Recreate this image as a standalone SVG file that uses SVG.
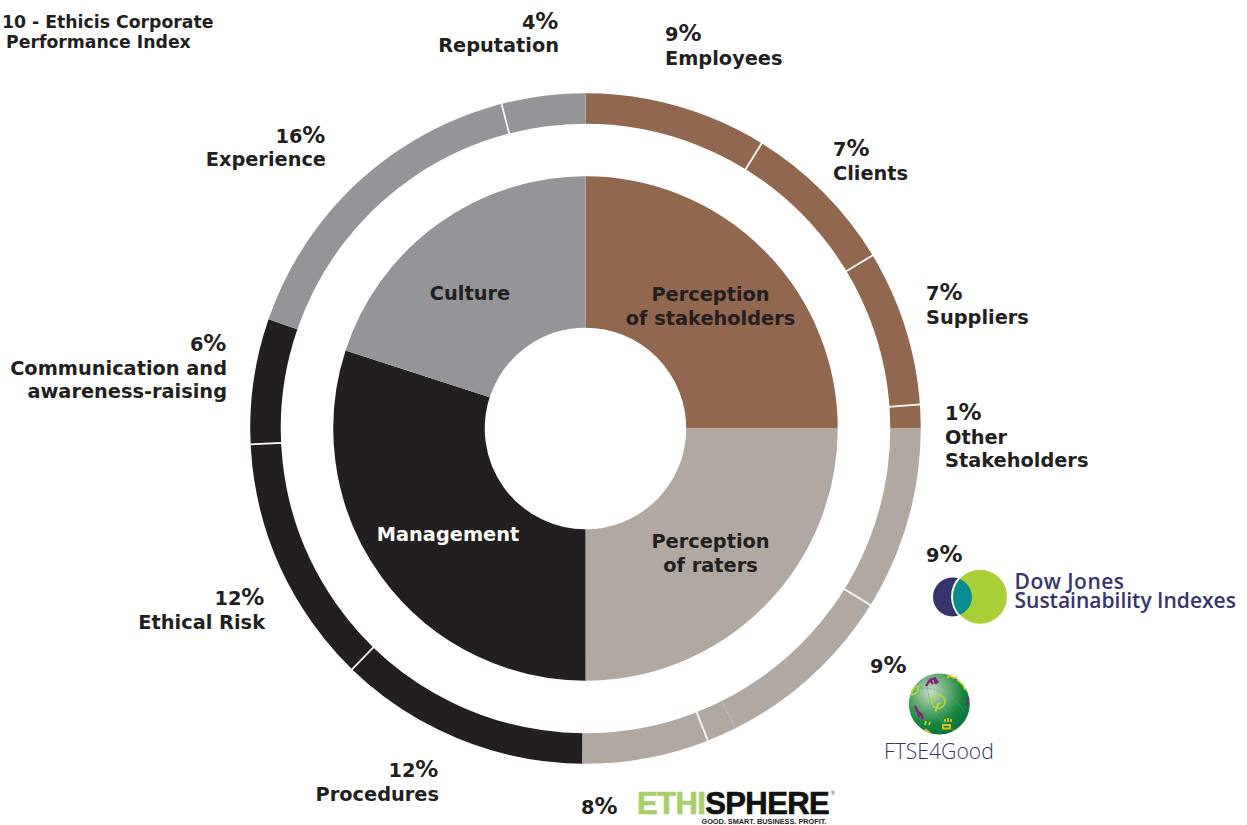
<svg xmlns="http://www.w3.org/2000/svg" width="1247" height="825" viewBox="0 0 1247 825">
<defs>
<radialGradient id="globe" cx="0.36" cy="0.3" r="0.8"><stop offset="0" stop-color="#cfdfcc"/><stop offset="0.3" stop-color="#74b383"/><stop offset="0.65" stop-color="#16873f"/><stop offset="1" stop-color="#0c6a38"/></radialGradient>
</defs>
<style>
.t{font-family:"DejaVu Sans",Verdana,sans-serif;font-weight:700;font-size:19.35px;fill:#231f20}
.pc{font-size:23px;letter-spacing:0.6px}
.e{text-anchor:end}
.m{text-anchor:middle}
.ti{font-size:17.3px}
.r{fill:none;stroke-width:30.5}
.p{fill:none;stroke-width:151.5}
.sep{stroke:#fff;stroke-width:1.7}
.br{stroke:#91674f}.li{stroke:#b0a8a1}.bk{stroke:#231f20}.gr{stroke:#939598}
.dj{font-family:"Open Sans",sans-serif;font-weight:600;font-size:21px;fill:#35346b}
.fig{fill:none;stroke:#8d1a7d;stroke-width:2.2}
.hand{fill:none;stroke:#e3c21d;stroke-width:1.8}
.leaf{fill:none;stroke:#b6d832;stroke-width:1.6}
</style>
<rect width="1247" height="825" fill="#fff"/>
<g id="inner-ring">
<path class="p br" d="M585.5 252A176.500 176.500 0 0 1 762 428.500"/>
<path class="p li" d="M762 428.500A176.500 176.500 0 0 1 585.500 605"/>
<path class="p bk" d="M585.500 605A176.500 176.500 0 0 1 417.640 373.960"/>
<path class="p gr" d="M417.640 373.960A176.500 176.500 0 0 1 585.500 252"/>
</g>
<g id="outer-ring">
<path class="r br" d="M585.500 108.500A320 320 0 0 1 905.500 428.500"/>
<path class="r li" d="M905.500 428.500A320 320 0 0 1 582.150 748.480"/>
<path class="r bk" d="M582.150 748.480A320 320 0 0 1 282.930 324.320"/>
<path class="r gr" d="M282.930 324.320A320 320 0 0 1 585.500 108.500"/>
</g>
<g id="separators">
<line class="sep" x1="585.500" y1="92" x2="585.500" y2="125" transform="rotate(31.700 585.500 428.500)"/>
<line class="sep" x1="585.500" y1="92" x2="585.500" y2="125" transform="rotate(58.900 585.500 428.500)"/>
<line class="sep" x1="585.500" y1="92" x2="585.500" y2="125" transform="rotate(85.900 585.500 428.500)"/>
<line class="sep" x1="585.500" y1="92" x2="585.500" y2="125" transform="rotate(121.800 585.500 428.500)"/>
<line class="sep" x1="585.500" y1="92" x2="585.500" y2="125" transform="rotate(158.600 585.500 428.500)"/>
<line x1="585.500" y1="92" x2="585.500" y2="125" stroke="#d5d0cb" stroke-width="0.8" stroke-dasharray="1.500 1.500" transform="rotate(153.400 585.500 428.500)"/>
<line class="sep" x1="585.500" y1="92" x2="585.500" y2="125" transform="rotate(224.100 585.500 428.500)"/>
<line class="sep" x1="585.500" y1="92" x2="585.500" y2="125" transform="rotate(267.300 585.500 428.500)"/>
<line class="sep" x1="585.500" y1="92" x2="585.500" y2="125" transform="rotate(345.500 585.500 428.500)"/>
</g>
<g id="sector-labels">
<text class="t m" x="470" y="300">Culture</text>
<text class="t m" x="710.500" y="301">Perception</text>
<text class="t m" x="710.500" y="325">of stakeholders</text>
<text class="t m" x="710.500" y="548">Perception</text>
<text class="t m" x="710.500" y="572">of raters</text>
<text class="t m" x="448" y="541" style="fill:#fff">Management</text>
</g>
<g id="title">
<text class="t ti" x="2" y="28">10 - Ethicis Corporate</text>
<text class="t ti" x="6" y="48">Performance Index</text>
</g>
<g id="outer-labels">
<text class="t e" x="559" y="29">4<tspan class="pc">%</tspan></text><text class="t e" x="559" y="52">Reputation</text>
<text class="t" x="665" y="41">9<tspan class="pc">%</tspan></text><text class="t" x="665" y="65">Employees</text>
<text class="t" x="833" y="156">7<tspan class="pc">%</tspan></text><text class="t" x="833" y="180">Clients</text>
<text class="t" x="926" y="300">7<tspan class="pc">%</tspan></text><text class="t" x="926" y="324">Suppliers</text>
<text class="t" x="945" y="420">1<tspan class="pc">%</tspan></text><text class="t" x="945" y="444">Other</text><text class="t" x="945" y="467">Stakeholders</text>
<text class="t" x="926" y="562">9<tspan class="pc">%</tspan></text>
<text class="t" x="870" y="673">9<tspan class="pc">%</tspan></text>
<text class="t" x="581" y="814">8<tspan class="pc">%</tspan></text>
<text class="t e" x="326" y="143">16<tspan class="pc">%</tspan></text><text class="t e" x="326" y="166">Experience</text>
<text class="t e" x="227" y="351">6<tspan class="pc">%</tspan></text><text class="t e" x="227" y="375">Communication and</text><text class="t e" x="227" y="398">awareness-raising</text>
<text class="t e" x="265" y="605">12<tspan class="pc">%</tspan></text><text class="t e" x="265" y="629">Ethical Risk</text>
<text class="t e" x="439" y="777">12<tspan class="pc">%</tspan></text><text class="t e" x="439" y="801">Procedures</text>
</g>
<g id="logo-dow-jones">
<circle cx="952.500" cy="597" r="19.500" fill="#35346b"/>
<circle cx="980" cy="596.700" r="29" fill="#fff"/>
<circle cx="980" cy="596.700" r="27" fill="#a9cf38"/>
<path d="M959.900 579A19.500 19.500 0 0 1 959.900 615A27 27 0 0 1 959.900 579Z" fill="#068d8d"/>
<text class="dj"><tspan x="1014.500" y="588.500" style="letter-spacing:0.5px">Dow Jones</tspan><tspan x="1014.500" y="608">Sustainability Indexes</tspan></text>
</g>
<g id="logo-ftse4good">
<circle cx="939.300" cy="704" r="30.500" fill="url(#globe)"/>
<path d="M917 690C925 685 950 690 965 712M928 675C925 700 935 720 955 730" fill="none" stroke="#5fae72" stroke-width="0.5"/>
<path class="fig" d="M926 686l4-6 3 4M930 680l5-2 3 5M934 678l2 6M915 706l3 6 1 5M918 712l3 2 2 5M967.500 697v8"/>
<circle cx="938.300" cy="701.500" r="6.800" class="leaf"/><path class="leaf" d="M935.500 711.500l2.500-7 3-2" style="stroke-width:2"/>
<path class="leaf" d="M911.500 695c0-5 3-8 7-9 0 4-2 8-7 9zM957 680l6 5 2 5"/>
<path class="hand" d="M943 725h7v3.500h-7zM945 722v-3M948 722v-4M951 722v-3M925 729l5 4M925 725l1-4M929 725l1-3M948 675l6 3 3-1M947 678l3-3"/>
<text x="884" y="759" style="font-family:'Open Sans',sans-serif;font-weight:300;font-size:21.2px;fill:#35346b">FTSE4Good</text>
</g>
<g id="logo-ethisphere">
<text style="font-family:'Liberation Sans',sans-serif;font-weight:700;font-size:31px"><tspan x="637" y="814" fill="#a9cf6a" stroke="#a9cf6a" stroke-width="0.7" style="letter-spacing:-0.6px">ETHI</tspan><tspan fill="#111" stroke="#111" stroke-width="0.7" style="letter-spacing:-0.6px">SPHERE</tspan><tspan x="831" y="795" style="font-size:5px;font-weight:400" fill="#231f20">®</tspan><tspan x="701.500" y="824" style="font-size:7.300px" fill="#231f20">GOOD. SMART. BUSINESS. PROFIT.</tspan></text>
</g>
</svg>
